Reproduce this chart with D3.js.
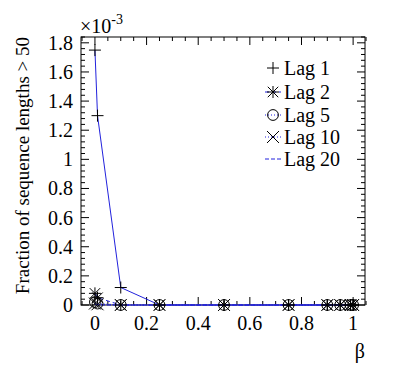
<!DOCTYPE html>
<html>
<head>
<meta charset="utf-8">
<script src="https://cdn.jsdelivr.net/npm/d3@7"></script>
<style>
  body { margin: 0; background: #fff; }
</style>
</head>
<body>
<svg id="chart" width="407" height="382"></svg>
<script>
// values in units of 1e-3
var betas = [0, 0.01, 0.1, 0.25, 0.5, 0.75, 0.9, 0.95, 0.99, 1];
var lag1  = [1.75, 1.30, 0.12, 0, 0, 0, 0, 0, 0, 0];
var lag2  = [0.08, 0.05, 0, 0, 0, 0, 0, 0, 0, 0];
var lag5  = [0.02, 0.01, 0, 0, 0, 0, 0, 0, 0, 0];
var lag10 = [0.01, 0.005, 0, 0, 0, 0, 0, 0, 0, 0];
var lag20 = [0.005, 0, 0, 0, 0, 0, 0, 0, 0, 0];
var seriesNames = ["Lag 1", "Lag 2", "Lag 5", "Lag 10", "Lag 20"];
var xTicks = [0, 0.2, 0.4, 0.6, 0.8, 1];
var yTicks = [0, 0.2, 0.4, 0.6, 0.8, 1, 1.2, 1.4, 1.6, 1.8];

var FONT = "Liberation Serif";
var svg = d3.select("#chart");
var fLeft = 81, fRight = 365, fTop = 37, fBottom = 305;

var x = d3.scaleLinear().domain([-0.054, 1.046]).range([fLeft, fRight]);
var y = d3.scaleLinear().domain([0, 1.84]).range([fBottom, fTop]);

var series = [
  {name: seriesNames[0], vals: lag1,  marker: "plus",   dash: null},
  {name: seriesNames[1], vals: lag2,  marker: "star",   dash: "4,3"},
  {name: seriesNames[2], vals: lag5,  marker: "circle", dash: "1,2"},
  {name: seriesNames[3], vals: lag10, marker: "cross",  dash: "1,2"},
  {name: seriesNames[4], vals: lag20, marker: "none",   dash: "4,2"}
];

// frame
svg.append("rect")
  .attr("x", fLeft).attr("y", fTop)
  .attr("width", fRight - fLeft).attr("height", fBottom - fTop)
  .attr("fill", "none").attr("stroke", "#000").attr("stroke-width", 1);

// ticks on all four sides
var xMinor = d3.range(-0.05, 1.05001, 0.05).map(function(d) { return +d.toFixed(2); });
xMinor.forEach(function(v) {
  var major = Math.abs(v * 5 - Math.round(v * 5)) < 1e-6;
  var len = major ? 8 : 4;
  svg.append("line").attr("x1", x(v)).attr("x2", x(v))
    .attr("y1", fBottom).attr("y2", fBottom - len).attr("stroke", "#000");
  svg.append("line").attr("x1", x(v)).attr("x2", x(v))
    .attr("y1", fTop).attr("y2", fTop + len).attr("stroke", "#000");
});
var yMinor = d3.range(0, 1.8401, 0.04).map(function(d) { return +d.toFixed(2); });
yMinor.forEach(function(v) {
  var major = Math.abs(v * 5 - Math.round(v * 5)) < 1e-6;
  var len = major ? 8 : 4;
  svg.append("line").attr("y1", y(v)).attr("y2", y(v))
    .attr("x1", fLeft).attr("x2", fLeft + len).attr("stroke", "#000");
  svg.append("line").attr("y1", y(v)).attr("y2", y(v))
    .attr("x1", fRight).attr("x2", fRight - len).attr("stroke", "#000");
});

// tick labels
svg.selectAll(".xl").data(xTicks).enter().append("text")
  .attr("x", function(d) { return x(d); })
  .attr("y", 330)
  .attr("text-anchor", "middle")
  .attr("font-family", FONT)
  .attr("font-size", 20)
  .text(function(d) { return d3.format("")(d); });

svg.selectAll(".yl").data(yTicks).enter().append("text")
  .attr("x", 73)
  .attr("y", function(d) { return y(d) + 7; })
  .attr("text-anchor", "end")
  .attr("font-family", FONT)
  .attr("font-size", 20)
  .text(function(d) { return d3.format("")(d); });

// exponent
var ex = svg.append("text").attr("x", 80).attr("y", 33)
  .attr("font-family", FONT).attr("font-size", 20);
ex.append("tspan").text("\u00d710");
ex.append("tspan").attr("dy", -9).attr("font-size", 14).text("-3");

// axis titles
svg.append("text")
  .attr("transform", "translate(29," + fTop + ") rotate(-90)")
  .attr("text-anchor", "end")
  .attr("font-family", FONT)
  .attr("font-size", 19)
  .text("Fraction of sequence lengths > 50");

svg.append("text")
  .attr("x", fRight).attr("y", 358)
  .attr("text-anchor", "end")
  .attr("font-family", FONT)
  .attr("font-size", 20)
  .text("\u03b2");

// lines
var line = d3.line()
  .x(function(d, i) { return x(betas[i]); })
  .y(function(d) { return y(d); });

series.forEach(function(s) {
  svg.append("path")
    .datum(s.vals)
    .attr("fill", "none")
    .attr("stroke", "#2222dd")
    .attr("stroke-width", 1)
    .attr("stroke-dasharray", s.dash)
    .attr("d", line);
});

function drawMarker(g, type, cx, cy) {
  var r = 6;
  if (type === "plus") {
    g.append("path").attr("d", "M" + (cx - r) + "," + cy + "H" + (cx + r) + "M" + cx + "," + (cy - r) + "V" + (cy + r))
      .attr("stroke", "#000").attr("stroke-width", 1).attr("fill", "none");
  } else if (type === "star") {
    var a = r * 0.87;
    g.append("path").attr("d",
      "M" + (cx - r) + "," + cy + "H" + (cx + r) +
      "M" + (cx - a) + "," + (cy - a) + "L" + (cx + a) + "," + (cy + a) +
      "M" + (cx - a) + "," + (cy + a) + "L" + (cx + a) + "," + (cy - a) +
      "M" + cx + "," + (cy - r) + "V" + (cy + r))
      .attr("stroke", "#000").attr("stroke-width", 1).attr("fill", "none");
  } else if (type === "circle") {
    g.append("circle").attr("cx", cx).attr("cy", cy).attr("r", r * 0.9)
      .attr("stroke", "#000").attr("stroke-width", 1).attr("fill", "none");
  } else if (type === "cross") {
    var c = r * 1.0;
    g.append("path").attr("d",
      "M" + (cx - c) + "," + (cy - c) + "L" + (cx + c) + "," + (cy + c) +
      "M" + (cx - c) + "," + (cy + c) + "L" + (cx + c) + "," + (cy - c))
      .attr("stroke", "#000").attr("stroke-width", 1).attr("fill", "none");
  }
}

var mg = svg.append("g");
series.forEach(function(s) {
  s.vals.forEach(function(v, i) {
    drawMarker(mg, s.marker, x(betas[i]), y(v));
  });
});

// legend
var legY = [68, 92, 115, 137, 159];
series.forEach(function(s, i) {
  var ly = legY[i];
  if (s.dash) {
    svg.append("line").attr("x1", 265).attr("x2", 281).attr("y1", ly).attr("y2", ly)
      .attr("stroke", "#2222dd").attr("stroke-dasharray", s.dash);
  }
  drawMarker(svg, s.marker, 273, ly);
  svg.append("text").attr("x", 284).attr("y", ly + 7)
    .attr("font-family", FONT)
    .attr("font-size", 20).text(s.name);
});
</script>
</body>
</html>
